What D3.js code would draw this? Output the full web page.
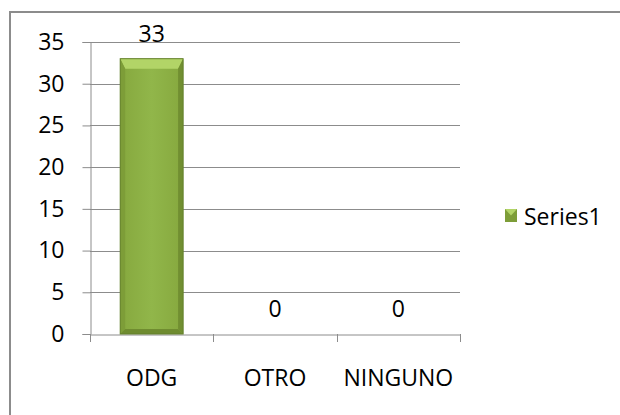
<!DOCTYPE html>
<html><head><meta charset="utf-8">
<script src="https://cdn.jsdelivr.net/npm/d3@7"></script>
<style>body{margin:0;background:#fff}svg{display:block}text{font-family:"Open Sans",sans-serif;fill:#000}</style>
</head><body><svg id="c" width="620" height="415"></svg>
<script>
const categories = ["ODG", "OTRO", "NINGUNO"];
const values = [33, 0, 0];
const yTicks = [0, 5, 10, 15, 20, 25, 30, 35];
const seriesName = "Series1";

const FONT = '"Open Sans", sans-serif';
const FS = 23;
const svg = d3.select("#c");
const W = 620, H = 415;
const m = {left: 90, right: 160, top: 42, bottom: 81};
const x = d3.scaleBand().domain(categories).range([m.left, W - m.right]).paddingInner(0.49).paddingOuter(0.245);
const xb = d3.scaleBand().domain(categories).range([m.left, W - m.right]);
const y = d3.scaleLinear().domain([0, 35]).range([H - m.bottom, m.top]);

// outer border
svg.append("rect").attr("x", 10).attr("y", 12).attr("width", 620).attr("height", 420)
  .attr("fill", "none").attr("stroke", "#8c8c8c").attr("stroke-width", 2);

const defs = svg.append("defs");
const g1 = defs.append("linearGradient").attr("id", "barg").attr("x1", 0).attr("x2", 1).attr("y1", 0).attr("y2", 0);
g1.append("stop").attr("offset", 0).attr("stop-color", "#86a83e");
g1.append("stop").attr("offset", 0.5).attr("stop-color", "#91b64a");
g1.append("stop").attr("offset", 1).attr("stop-color", "#86a83e");

// gridlines
svg.append("g").selectAll("line").data(yTicks.filter(d => d > 0)).join("line")
  .attr("x1", m.left).attr("x2", W - m.right)
  .attr("y1", d => Math.round(y(d)) + 0.5).attr("y2", d => Math.round(y(d)) + 0.5)
  .attr("stroke", "#8c8c8c").attr("stroke-width", 1);

// y axis
const ya = svg.append("g").attr("transform", `translate(${m.left + 0.5},0)`)
  .call(d3.axisLeft(y).tickValues(yTicks).tickSize(8).tickPadding(18));
ya.select(".domain").attr("stroke", "#8c8c8c");
ya.selectAll(".tick line").attr("stroke", "#8c8c8c");
ya.selectAll(".tick text").attr("font-size", FS).attr("font-family", FONT).attr("fill", "#000");

// x axis
const xa = svg.append("g").attr("transform", `translate(0,${Math.round(y(0)) + 0.5})`)
  .call(d3.axisBottom(xb).tickSize(0).tickPadding(35));
xa.select(".domain").attr("stroke", "#8c8c8c");
xa.selectAll(".tick text").attr("font-size", FS).attr("font-family", FONT).attr("fill", "#000");
// x tick marks at category boundaries
const bounds = [m.left].concat(categories.map(c => xb(c) + xb.bandwidth()));
svg.append("g").selectAll("line").data(bounds).join("line")
  .attr("x1", d => Math.round(d) + 0.5).attr("x2", d => Math.round(d) + 0.5)
  .attr("y1", y(0)).attr("y2", y(0) + 8).attr("stroke", "#8c8c8c");

// bars with bevel
const bars = svg.append("g");
const data = categories.map((c, i) => ({c, v: values[i]}));
data.filter(d => d.v > 0).forEach(d => {
  const x0 = x(d.c), x1 = x0 + x.bandwidth(), y0 = y(d.v), y1 = y(0);
  const b = 5;
  const g = bars.append("g");
  g.append("rect").attr("x", x0).attr("y", y0).attr("width", x1 - x0).attr("height", y1 - y0).attr("fill", "url(#barg)");
  g.append("polygon").attr("points", `${x0},${y0} ${x1},${y0} ${x1-b},${y0+b+5} ${x0+b},${y0+b+5}`).attr("fill", "#b2d467");
  g.append("polygon").attr("points", `${x0},${y0} ${x0+b},${y0+b+5} ${x0+b},${y1-b} ${x0},${y1}`).attr("fill", "#7d9d38");
  g.append("polygon").attr("points", `${x1},${y0} ${x1-b},${y0+b+5} ${x1-b},${y1-b} ${x1},${y1}`).attr("fill", "#718f31");
  g.append("polygon").attr("points", `${x0},${y1} ${x0+b},${y1-b} ${x1-b},${y1-b} ${x1},${y1}`).attr("fill", "#6f8c30");
  g.append("rect").attr("x", x0).attr("y", y0).attr("width", x1 - x0).attr("height", y1 - y0)
    .attr("fill", "none").attr("stroke", "#64802c").attr("stroke-width", 1);
});

// value labels
svg.append("g").selectAll("text").data(data).join("text")
  .attr("x", d => x(d.c) + x.bandwidth() / 2)
  .attr("y", d => y(d.v) - 17)
  .attr("text-anchor", "middle").attr("font-size", FS).text(d => d.v);

// legend
const lg = svg.append("g").attr("transform", "translate(505,209)");
lg.append("rect").attr("width", 12).attr("height", 13).attr("fill", "#7d9d38");
lg.append("polygon").attr("points", "0,0 12,0 6,6.5").attr("fill", "#b2d467");
lg.append("text").attr("x", 19).attr("y", 16).attr("font-size", FS).text(seriesName);
</script></body></html>
